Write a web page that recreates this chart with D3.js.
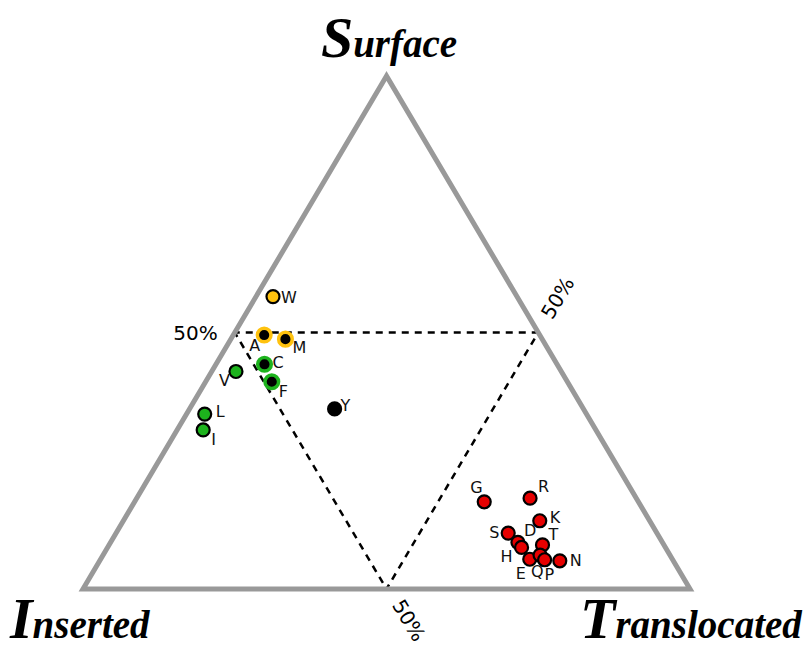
<!DOCTYPE html>
<html>
<head>
<meta charset="utf-8">
<script src="https://cdn.jsdelivr.net/npm/d3@7"></script>
<style>
  html, body { margin: 0; padding: 0; background: #fff; }
  svg { display: block; }
  .title { font-family: 'Liberation Serif', 'Times New Roman', 'DejaVu Serif', serif; font-weight: bold; font-style: italic; }
</style>
</head>
<body>
<svg id="chart" width="808" height="651"></svg>
<script>
// Residue composition (% Surface / % Inserted / % Translocated)
const residues     = ["W", "A", "M", "C", "F", "V", "L", "I", "Y",
                      "G", "R", "K", "S", "D", "H", "E", "T", "Q", "P", "N"];
const surface      = [57.0, 49.5, 48.7, 43.8, 40.4, 42.4, 34.1, 31.0, 35.1,
                      17.0, 17.7, 13.3, 10.9, 9.1, 8.1, 5.8, 8.6, 6.6, 5.7, 5.5];
const inserted     = [40.2, 45.4, 42.3, 48.2, 48.7, 53.6, 62.9, 64.7, 41.0,
                      25.4, 17.5, 18.1, 24.5, 23.8, 23.7, 23.5, 20.0, 21.4, 21.1, 18.7];
const translocated = [2.8, 5.1, 9.0, 8.0, 10.9, 4.0, 3.0, 4.3, 23.9,
                      57.6, 64.8, 68.6, 64.6, 67.1, 68.2, 70.7, 71.4, 72.0, 73.2, 75.8];
const groups       = ["yellow", "yellowRing", "yellowRing", "greenRing", "greenRing",
                      "green", "green", "green", "black",
                      "red", "red", "red", "red", "red", "red", "red", "red", "red", "red", "red"];
// label offsets per residue [dx, dy]
const labelOffsets = [[8, 6], [-15, 16], [7, 14], [8, 4], [7, 15], [-17, 15], [11, 3], [8, 15], [6, 2],
                      [-14, -9], [8, -6], [10, 2], [-19, 5], [6, -6], [-21, 15], [-14, 20], [6, -5], [-9, 22], [0, 20], [10, 5]];
const gridLevels = [50];

const svg = d3.select("#chart");

// Ternary projection: vertical scale from surface, horizontal from translocated - inserted
const yS = d3.scaleLinear().domain([0, 100]).range([589, 76]);
const xD = d3.scaleLinear().domain([-100, 100]).range([83, 690]);
const proj = (s, i, t) => [xD(t - i), yS(s)];

const apex = proj(100, 0, 0), cornerL = proj(0, 100, 0), cornerR = proj(0, 0, 100);

const fills = { yellow: "#ffc20e", yellowRing: "#000", greenRing: "#000", green: "#1db31d", black: "#000", red: "#e60000" };
const strokes = { yellow: "#000", yellowRing: "#ffc20e", greenRing: "#1db31d", green: "#000", black: "#000", red: "#000" };

// 50% guide lines
gridLevels.forEach(p => {
  const q = 100 - p;
  const segs = [
    [proj(p, q, 0), proj(p, 0, q)],   // surface = 50%
    [proj(q, p, 0), proj(0, p, q)],   // inserted = 50%
    [proj(0, q, p), proj(q, 0, p)]    // translocated = 50%
  ];
  segs.forEach(([a, b]) => {
    svg.append("line")
      .attr("x1", a[0]).attr("y1", a[1]).attr("x2", b[0]).attr("y2", b[1])
      .attr("stroke", "#000").attr("stroke-width", 2.5)
      .attr("stroke-dasharray", "7,6")
      .attr("stroke-dashoffset", 2);
  });
});

// Triangle outline
svg.append("path")
  .attr("d", d3.line()([apex, cornerL, cornerR]) + "Z")
  .attr("fill", "none")
  .attr("stroke", "#999")
  .attr("stroke-width", 5)
  .attr("stroke-linejoin", "miter");

// 50% labels
const lblFont = "'DejaVu Sans', Verdana, sans-serif";
const sL = proj(50, 50, 0);
svg.append("text").attr("x", sL[0] - 17).attr("y", sL[1] + 7)
  .attr("text-anchor", "end").attr("font-family", lblFont).attr("font-size", 20)
  .text(gridLevels[0] + "%");
const tR = proj(50, 0, 50);
svg.append("text")
  .attr("transform", `translate(${tR[0] + 14},${tR[1] - 12}) rotate(-59)`)
  .attr("font-family", lblFont).attr("font-size", 20)
  .text(gridLevels[0] + "%");
const iB = proj(0, 50, 50);
svg.append("text")
  .attr("transform", `translate(${iB[0] + 5},${iB[1] + 16}) rotate(59)`)
  .attr("font-family", lblFont).attr("font-size", 20)
  .text(gridLevels[0] + "%");

// Data points
const pts = residues.map((r, k) => {
  const [x, y] = proj(surface[k], inserted[k], translocated[k]);
  return { r, x, y, g: groups[k], off: labelOffsets[k] };
});
const ring = g => g === "yellowRing" || g === "greenRing";

svg.append("g").selectAll("circle").data(pts).join("circle")
  .attr("cx", d => d.x).attr("cy", d => d.y)
  .attr("r", d => ring(d.g) ? 6.8 : 6.5)
  .attr("fill", d => fills[d.g])
  .attr("stroke", d => strokes[d.g])
  .attr("stroke-width", d => ring(d.g) ? 3.5 : 2.2);

svg.append("g").selectAll("text").data(pts).join("text")
  .attr("x", d => d.x + d.off[0]).attr("y", d => d.y + d.off[1])
  .attr("font-family", lblFont).attr("font-size", 16)
  .attr("fill", "#111")
  .text(d => d.r);

// Corner titles
function cornerTitle(x, y, word, anchor) {
  const t = svg.append("text").attr("class", "title").attr("x", x).attr("y", y)
    .attr("text-anchor", anchor);
  t.append("tspan").attr("class", "title").style("font-size", "58px").text(word[0]);
  t.append("tspan").attr("class", "title").style("font-size", "39px").text(word.slice(1));
}
cornerTitle(389, 57, "Surface", "middle");
cornerTitle(10, 638, "Inserted", "start");
cornerTitle(580, 638, "Translocated", "start");
</script>
</body>
</html>
